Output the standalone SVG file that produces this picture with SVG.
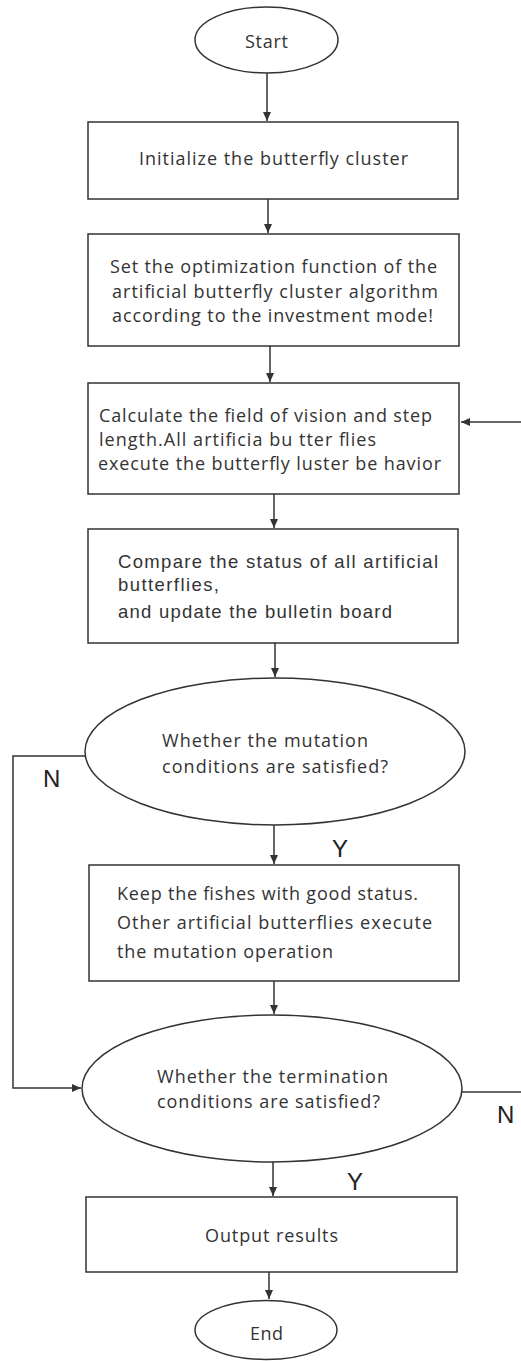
<svg xmlns="http://www.w3.org/2000/svg" width="521" height="1361" viewBox="0 0 521 1361">
<style>
.n{fill:#fff;stroke:#333;stroke-width:1.5}
.t{font-family:"Open Sans","Liberation Sans",sans-serif;font-size:18px;fill:#333}
.tc{font-family:"Liberation Sans",Arial,sans-serif;font-size:18.5px;fill:#333}
.l{font-family:"Liberation Sans",Arial,sans-serif;font-size:24px;fill:#222}
.c{fill:none;stroke:#333;stroke-width:1.5}
</style>
<defs>
<marker id="ah" markerWidth="10" markerHeight="10" refX="9" refY="5" orient="auto" markerUnits="userSpaceOnUse">
<path d="M0,1 L9,5 L0,9 Z" fill="#333"/>
</marker>
</defs>
<rect width="521" height="1361" fill="#fff"/>
<g id="connectors">
<line class="c" x1="267" y1="73" x2="267" y2="121" marker-end="url(#ah)"/>
<line class="c" x1="268" y1="199" x2="268" y2="233" marker-end="url(#ah)"/>
<line class="c" x1="270" y1="346" x2="270" y2="382" marker-end="url(#ah)"/>
<line class="c" x1="274" y1="494" x2="274" y2="528" marker-end="url(#ah)"/>
<line class="c" x1="275" y1="643" x2="275" y2="677" marker-end="url(#ah)"/>
<line class="c" x1="274" y1="825" x2="274" y2="864" marker-end="url(#ah)"/>
<line class="c" x1="274" y1="981" x2="274" y2="1014" marker-end="url(#ah)"/>
<line class="c" x1="273" y1="1162" x2="273" y2="1196" marker-end="url(#ah)"/>
<line class="c" x1="269" y1="1272" x2="269" y2="1299" marker-end="url(#ah)"/>
<path class="c" d="M86,756 H13 V1088 H81" marker-end="url(#ah)"/>
<line class="c" x1="462" y1="1092" x2="521" y2="1092"/>
<line class="c" x1="521" y1="422" x2="461" y2="422" marker-end="url(#ah)"/>
<text class="l" x="43" y="787">N</text>
<text class="l" x="497" y="1123">N</text>
<text class="l" x="332" y="857">Y</text>
<text class="l" x="347" y="1190">Y</text>
</g>
<g id="start">
<ellipse class="n" cx="266.5" cy="40" rx="71.5" ry="33"/>
<text class="t" x="266.5" y="48" text-anchor="middle" font-size="20" textLength="43">Start</text>
</g>
<g id="init">
<rect class="n" x="88" y="122" width="370" height="77"/>
<text class="t" x="273.5" y="165" text-anchor="middle" textLength="269">Initialize the butterfly cluster</text>
</g>
<g id="setfunc">
<rect class="n" x="88" y="234" width="371" height="112"/>
<text class="t" x="273.5" y="273" text-anchor="middle" textLength="327">Set the optimization function of the</text>
<text class="t" x="275" y="298" text-anchor="middle" textLength="326">artificial butterfly cluster algorithm</text>
<text class="t" x="272.5" y="322" text-anchor="middle" textLength="321">according to the investment mode!</text>
</g>
<g id="calc">
<rect class="n" x="88" y="383" width="371" height="111"/>
<text class="t" x="99" y="422" textLength="333">Calculate the field of vision and step</text>
<text class="t" x="99" y="446" textLength="277">length.All artificia bu tter flies</text>
<text class="t" x="98" y="470" textLength="343">execute the butterfly luster be havior</text>
</g>
<g id="compare">
<rect class="n" x="88" y="529" width="370" height="114"/>
<text class="tc" x="118" y="568" textLength="320">Compare the status of all artificial</text>
<text class="tc" x="118" y="591" textLength="101">butterflies,</text>
<text class="tc" x="118" y="618" textLength="274">and update the bulletin board</text>
</g>
<g id="mutationq">
<ellipse class="n" cx="275" cy="751.5" rx="190" ry="73.5"/>
<text class="t" x="162" y="747" textLength="206">Whether the mutation</text>
<text class="t" x="162" y="773" textLength="226">conditions are satisfied?</text>
</g>
<g id="keep">
<rect class="n" x="89" y="865" width="370" height="116"/>
<text class="t" x="117" y="900" textLength="301">Keep the fishes with good status.</text>
<text class="t" x="117" y="929" textLength="315">Other artificial butterflies execute</text>
<text class="t" x="117" y="958" textLength="216">the mutation operation</text>
</g>
<g id="terminationq">
<ellipse class="n" cx="272" cy="1088.5" rx="190" ry="73.5"/>
<text class="t" x="157" y="1083" textLength="231">Whether the termination</text>
<text class="t" x="157" y="1108" textLength="223">conditions are satisfied?</text>
</g>
<g id="output">
<rect class="n" x="86" y="1197" width="371" height="75"/>
<text class="t" x="205" y="1242" textLength="133">Output results</text>
</g>
<g id="end">
<ellipse class="n" cx="266" cy="1330" rx="71" ry="29.5"/>
<text class="t" x="266.5" y="1340" text-anchor="middle" font-size="20" textLength="33">End</text>
</g>
</svg>
